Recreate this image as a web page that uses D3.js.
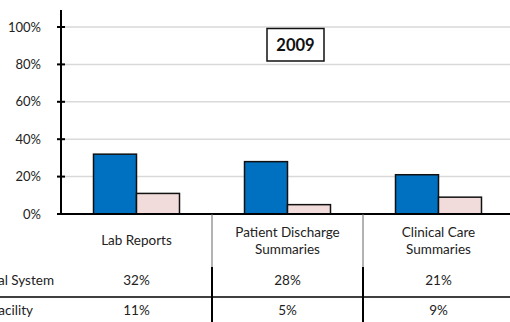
<!DOCTYPE html>
<html>
<head>
<meta charset="utf-8">
<script src="https://cdn.jsdelivr.net/npm/d3@7"></script>
<style>
  html, body { margin: 0; padding: 0; background: #fff; }
  svg { display: block; font-family: Lato, "Open Sans", sans-serif; }
</style>
</head>
<body>
<svg id="chart" width="510" height="322"></svg>
<script>
// Chart data
const categories = [["Lab Reports"], ["Patient Discharge", "Summaries"], ["Clinical Care", "Summaries"]];
const seriesNames = ["Hospital System", "Outside Facility"];
const systemValues = [32, 28, 21];
const facilityValues = [11, 5, 9];
const yTicks = [0, 20, 40, 60, 80, 100];
const title = "2009";

const seriesColors = ["#0070c0", "#f2dcdb"];
const seriesValues = [systemValues, facilityValues];

const svg = d3.select("#chart");
const catKeys = categories.map(c => c.join(" "));

const plot = { left: 61, right: 514, top: 27, bottom: 214 };

const x = d3.scaleBand().domain(catKeys).range([plot.left, plot.right]).paddingInner(0).paddingOuter(0);
const xSub = d3.scaleBand().domain(seriesNames).range([0, x.bandwidth()]).paddingInner(0).paddingOuter(0.756);
const y = d3.scaleLinear().domain([0, 100]).range([plot.bottom, plot.top]);

// Gridlines
svg.append("g")
  .selectAll("line")
  .data(yTicks.filter(t => t > 0))
  .join("line")
  .attr("x1", plot.left).attr("x2", 510)
  .attr("y1", d => y(d)).attr("y2", d => y(d))
  .attr("stroke", "#d9d9d9").attr("stroke-width", 1.5);

// Bars
const groups = svg.append("g")
  .selectAll("g")
  .data(catKeys)
  .join("g")
  .attr("transform", d => `translate(${x(d)},0)`);

groups.selectAll("rect")
  .data((d, i) => seriesNames.map((s, j) => ({ s, v: seriesValues[j][i], j })))
  .join("rect")
  .attr("x", d => xSub(d.s))
  .attr("y", d => y(d.v))
  .attr("width", xSub.bandwidth())
  .attr("height", d => y(0) - y(d.v))
  .attr("fill", d => seriesColors[d.j])
  .attr("stroke", "#111").attr("stroke-width", 1.5);

// Y axis
const yAxis = d3.axisLeft(y).tickValues(yTicks).tickFormat(d => d + "%").tickSize(0).tickPadding(20);
const yg = svg.append("g").attr("transform", `translate(${plot.left},0)`).call(yAxis);
yg.select(".domain").remove();
yg.selectAll("text").attr("font-size", 13).attr("fill", "#222").attr("font-family", "Lato, sans-serif");
svg.append("line").attr("x1", plot.left).attr("x2", plot.left).attr("y1", 10).attr("y2", plot.bottom + 1)
  .attr("stroke", "#000").attr("stroke-width", 2);
svg.append("g").selectAll("line").data(yTicks).join("line")
  .attr("x1", plot.left - 4).attr("x2", plot.left + 4)
  .attr("y1", d => y(d)).attr("y2", d => y(d))
  .attr("stroke", "#000").attr("stroke-width", 2);

// X axis baseline
svg.append("line").attr("x1", plot.left - 4).attr("x2", 510).attr("y1", plot.bottom).attr("y2", plot.bottom)
  .attr("stroke", "#000").attr("stroke-width", 2);

// Data table
const table = svg.append("g").attr("font-size", 13.5).attr("fill", "#222");
const boundaries = catKeys.slice(1).map(k => x(k));

table.selectAll("line.sep-top").data(boundaries).join("line")
  .attr("x1", d => d).attr("x2", d => d).attr("y1", plot.bottom).attr("y2", 267)
  .attr("stroke", "#666").attr("stroke-width", 1);
table.selectAll("line.sep-bot").data(boundaries).join("line")
  .attr("x1", d => d).attr("x2", d => d).attr("y1", 267).attr("y2", 322)
  .attr("stroke", "#000").attr("stroke-width", 2);
table.append("line").attr("x1", 0).attr("x2", 510).attr("y1", 297).attr("y2", 297)
  .attr("stroke", "#000").attr("stroke-width", 1.5);

// Category header cells
categories.forEach((lines, i) => {
  const cx = x(catKeys[i]) + x.bandwidth() / 2;
  const y0 = lines.length === 1 ? 245 : 236.5;
  lines.forEach((ln, k) => {
    table.append("text").attr("x", cx).attr("y", y0 + k * 17.5)
      .attr("text-anchor", "middle").attr("fill", "#222").text(ln);
  });
});

// Series rows
const rowY = [285, 315];
const labelEnds = [54, 33];
seriesNames.forEach((name, j) => {
  table.append("text").attr("x", labelEnds[j]).attr("y", rowY[j])
    .attr("text-anchor", "end").attr("fill", "#222").text(name);
  seriesValues[j].forEach((v, i) => {
    table.append("text").attr("x", x(catKeys[i]) + x.bandwidth() / 2).attr("y", rowY[j])
      .attr("text-anchor", "middle").attr("fill", "#222").text(v + "%");
  });
});

// Title box
const tg = svg.append("g");
tg.append("rect").attr("x", 267).attr("y", 28.5).attr("width", 57).attr("height", 32.5)
  .attr("fill", "#fff").attr("stroke", "#111").attr("stroke-width", 1.5);
tg.append("text").attr("x", 295.5).attr("y", 51).attr("text-anchor", "middle")
  .attr("font-size", 16.5).attr("font-weight", "bold").attr("fill", "#111").text(title);
</script>
</body>
</html>
